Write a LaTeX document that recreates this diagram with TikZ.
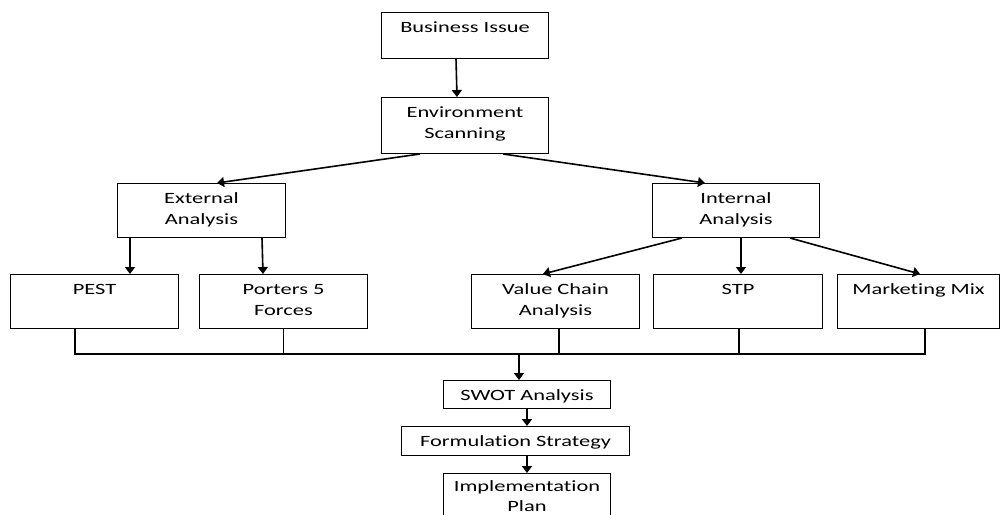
\documentclass[tikz,border=0pt]{standalone}
\usepackage{fontspec}
\setmainfont[Ligatures=NoCommon]{Carlito}
\usepackage{graphicx}
\usetikzlibrary{arrows.meta}
\newcommand{\boxlines}[1]{\scalebox{1}[0.7]{\begin{tabular}[t]{@{}c@{}}#1\end{tabular}}}
\tikzset{
  flowbox/.style={draw,line width=0.5pt,inner sep=0pt,anchor=north west,
    text height=10pt,font=\fontsize{11.2}{15}\selectfont},
  flowarrow/.style={-{Triangle[length=3.5pt,width=5pt]},line width=0.8pt},
  busline/.style={line width=0.6pt}
}

\begin{document}
\begin{tikzpicture}[x=0.5pt,y=-0.5pt]
        \clip (0,0) rectangle (1000,514);

        \node[flowbox,minimum width=83.5pt,text depth=13pt] (biz) at (381,12) {\boxlines{Business Issue}};
        \node[flowbox,minimum width=83.5pt,text depth=18pt] (env) at (381,97) {\boxlines{Environment\\Scanning}};

        \node[flowbox,minimum width=84pt,text depth=17pt] (ext) at (117,183) {\boxlines{External\\Analysis}};
        \node[flowbox,minimum width=83.5pt,text depth=17pt] (int) at (652,183) {\boxlines{Internal\\Analysis}};

        \node[flowbox,minimum width=84pt,text depth=17pt] (pest) at (10,274) {\boxlines{PEST}};
        \node[flowbox,minimum width=84pt,text depth=17pt] (porters) at (199,274) {\boxlines{Porters 5\\Forces}};
        \node[flowbox,minimum width=84pt,text depth=17pt] (vca) at (471,274) {\boxlines{Value Chain\\Analysis}};
        \node[flowbox,minimum width=84.5pt,text depth=17pt] (stp) at (653,274) {\boxlines{STP}};
        \node[flowbox,minimum width=81pt,text depth=17pt] (mix) at (837,274) {\boxlines{Marketing Mix}};

        \node[flowbox,minimum width=83.5pt,text depth=4pt] (swot) at (443,380) {\boxlines{SWOT Analysis}};
        \node[flowbox,minimum width=114pt,text depth=4.5pt] (form) at (401,426) {\boxlines{Formulation Strategy}};
        \node[flowbox,minimum width=83.5pt,text height=9pt,text depth=21pt,
          font=\fontsize{11.2}{14.4}\selectfont] (impl) at (443,473) {\boxlines{Implementation\\Plan}};

        \coordinate (bus) at (519,354);

        \draw[flowarrow] ([xshift=37.5pt]biz.south west) -- ([xshift=38pt]env.north west);
        \draw[flowarrow] ([xshift=19.5pt]env.south west) -- ([xshift=50pt]ext.north west);
        \draw[flowarrow] ([xshift=61pt]env.south west) -- ([xshift=26.5pt]int.north west);

        \draw[flowarrow] ([xshift=6.5pt]ext.south west) -- ([xshift=60pt]pest.north west);
        \draw[flowarrow] ([xshift=72.5pt]ext.south west) -- ([xshift=32pt]porters.north west);
        \draw[flowarrow] ([xshift=15pt]int.south west) -- ([xshift=36pt]vca.north west);
        \draw[flowarrow] ([xshift=44.5pt]int.south west) -- ([xshift=44pt]stp.north west);
        \draw[flowarrow] ([xshift=69pt]int.south west) -- ([xshift=41.5pt]mix.north west);

        \draw[busline] ([xshift=32.5pt]pest.south west) |- (bus);
        \draw[busline] (porters.south) |- (bus);
        \draw[busline] ([xshift=44pt]vca.south west) |- (bus);
        \draw[busline] ([xshift=43pt]stp.south west) |- (bus);
        \draw[busline] ([xshift=44pt]mix.south west) |- (bus);

        \draw[flowarrow] (bus) -- (bus |- swot.north);
        \draw[flowarrow] (swot.south) -- (swot.south |- form.north);
        \draw[flowarrow] (form.south -| impl.north) -- (impl.north);
\end{tikzpicture}
\end{document}
